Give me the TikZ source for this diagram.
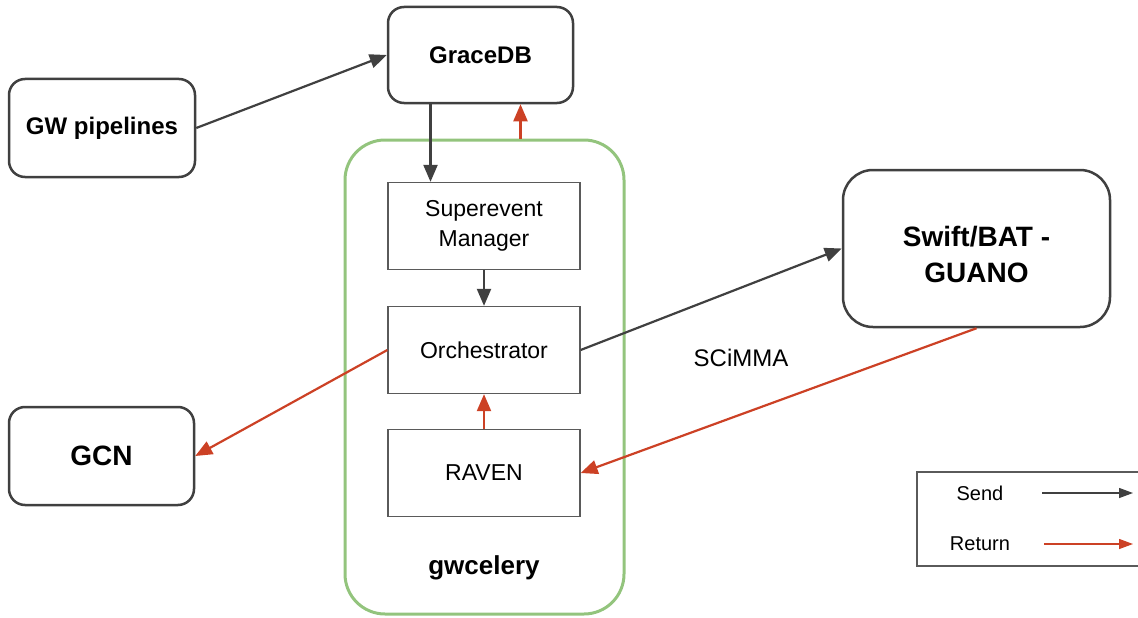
\documentclass[tikz,border=0pt]{standalone}
\usepackage{fontspec}
\setmainfont{Liberation Sans}
\usetikzlibrary{arrows.meta, positioning}
\definecolor{senddark}{RGB}{64, 64, 64}
\definecolor{returnred}{RGB}{204, 65, 37}
\definecolor{celerygreen}{RGB}{147, 196, 125}
\definecolor{boxgray}{RGB}{90, 90, 90}
\tikzset{
  bigbox/.style={draw=senddark, line width=2.5pt, rounded corners=16pt, fill=white, align=center, inner sep=0pt, font=\fontsize{24}{29}\selectfont\bfseries},
  taskbox/.style={draw=boxgray, line width=1.3pt, fill=white, minimum width=192pt, minimum height=87pt, align=center, inner sep=0pt, font=\fontsize{23}{30}\selectfont},
  sendarrow/.style={draw=senddark, line width=2.2pt, -{Triangle[length=17pt, width=14pt]}},
  returnarrow/.style={draw=returnred, line width=2.2pt, -{Triangle[length=17pt, width=14pt]}},
  legendarrow/.style={line width=1.3pt, -{Triangle[length=14pt, width=10pt]}},
}

\begin{document}
\begin{tikzpicture}[x=1pt, y=-1pt]
  \useasboundingbox (0,0) rectangle (1138,618);

  % gwcelery container
  \node[draw=celerygreen, line width=3pt, rounded corners=40pt, minimum width=279pt, minimum height=474pt] (gwcelery) at (484.5,377) {};
  \node[font=\fontsize{26}{30}\selectfont\bfseries] (gwlabel) at (484,568) {gwcelery};

  % Outside services
  \node[bigbox, minimum width=185pt, minimum height=96pt] (gracedb) at (480.5,55) {GraceDB};
  \node[bigbox, minimum width=186pt, minimum height=98pt] (pipelines) at (102,128) {GW pipelines};
  \node[bigbox, minimum width=185pt, minimum height=98pt, font=\fontsize{28}{34}\selectfont\bfseries] (gcn) at (101.5,456) {GCN};
  \node[bigbox, minimum width=267pt, minimum height=157pt, rounded corners=30pt, font=\fontsize{28}{36}\selectfont\bfseries] (swift) at (976.5,248.5) {\raisebox{-15pt}[0pt][0pt]{\begin{tabular}{@{}c@{}}Swift/BAT -\\GUANO\end{tabular}}};

  % gwcelery tasks
  \node[taskbox] (manager) at (484,226) {Superevent\\Manager};
  \node[taskbox] (orch) at (484,350) {Orchestrator};
  \node[taskbox] (raven) at (484,473) {RAVEN};

  \node[font=\fontsize{24}{29}\selectfont] (scimma) at (741,358) {SCiMMA};

  % Send
  \draw[sendarrow] (pipelines.east) -- (gracedb.west);
  \draw[sendarrow] ([xshift=-50pt]gracedb.south) -- ([xshift=-50pt]gracedb.south |- manager.north);
  \draw[sendarrow] (manager.south) -- (orch.north);
  \draw[sendarrow] (orch.east) -- (swift.west);

  % Return
  \draw[returnarrow] ([xshift=40pt]gracedb.south |- gwcelery.north) -- ([xshift=40pt]gracedb.south);
  \draw[returnarrow] (raven.north) -- (orch.south);
  \draw[returnarrow] (orch.west) -- (gcn.east);
  \draw[returnarrow] (swift.south) -- (raven.east);

  % Legend
  \node[draw=boxgray, line width=1.3pt, minimum width=232pt, minimum height=94pt] (legend) at (1033,519) {};
  \node[font=\fontsize{20}{24}\selectfont] (sendlabel) at (980,493) {Send};
  \node[font=\fontsize{20}{24}\selectfont] (returnlabel) at (980,544) {Return};
  \coordinate (sendstart) at (1042,493);
  \coordinate (sendend) at (1133,493);
  \coordinate (returnstart) at (1044,544);
  \coordinate (returnend) at (1133,544);
  \draw[legendarrow, draw=senddark] (sendstart) -- (sendend);
  \draw[legendarrow, draw=returnred] (returnstart) -- (returnend);
\end{tikzpicture}
\end{document}
